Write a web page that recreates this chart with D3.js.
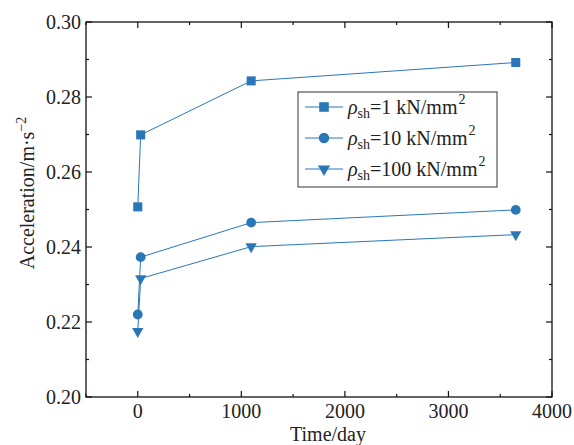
<!DOCTYPE html>
<html>
<head>
<meta charset="utf-8">
<script src="https://cdn.jsdelivr.net/npm/d3@7"></script>
<style>
  body { margin: 0; background: #fff; }
  text { font-family: "Liberation Serif", "Times New Roman", serif; fill: #222; }
</style>
</head>
<body>
<div id="chart"></div>
<script>
// data
var days = [0, 28, 1095, 3650];
var accel1 = [0.2507, 0.2699, 0.2843, 0.2892];
var accel10 = [0.2220, 0.2373, 0.2465, 0.2499];
var accel100 = [0.2175, 0.2316, 0.2401, 0.2433];
var seriesNames = ["1", "10", "100"];
var xTicks = [0, 1000, 2000, 3000, 4000];
var yTicks = [0.20, 0.22, 0.24, 0.26, 0.28, 0.30];

var W = 574, H = 445;
var margin = { top: 22, right: 22, bottom: 48, left: 86 };
var width = W - margin.left - margin.right,
    height = H - margin.top - margin.bottom;
var blue = "#2a77b8";
var fs = "20px", fsSmall = "14px";

var svg = d3.select("#chart").append("svg")
    .attr("width", W)
    .attr("height", H);
var g = svg.append("g")
    .attr("transform", "translate(" + margin.left + "," + margin.top + ")");

var x = d3.scaleLinear().domain([-500, 4000]).range([0, width]);
var y = d3.scaleLinear().domain([0.20, 0.30]).range([height, 0]);

// frame
g.append("rect")
    .attr("width", width).attr("height", height)
    .attr("fill", "none").attr("stroke", "#111").attr("stroke-width", 1.3);

// ticks, all pointing inward
var xMinor = d3.range(-500, 4001, 500).filter(function(d) { return xTicks.indexOf(d) < 0; });
var yMinor = [0.21, 0.23, 0.25, 0.27, 0.29];

function drawXTicks(vals, len) {
    vals.forEach(function(v) {
        g.append("line").attr("x1", x(v)).attr("x2", x(v)).attr("y1", height).attr("y2", height - len)
            .attr("stroke", "#111").attr("stroke-width", 1.2);
        g.append("line").attr("x1", x(v)).attr("x2", x(v)).attr("y1", 0).attr("y2", len)
            .attr("stroke", "#111").attr("stroke-width", 1.2);
    });
}
function drawYTicks(vals, len) {
    vals.forEach(function(v) {
        g.append("line").attr("x1", 0).attr("x2", len).attr("y1", y(v)).attr("y2", y(v))
            .attr("stroke", "#111").attr("stroke-width", 1.2);
        g.append("line").attr("x1", width).attr("x2", width - len).attr("y1", y(v)).attr("y2", y(v))
            .attr("stroke", "#111").attr("stroke-width", 1.2);
    });
}
drawXTicks(xTicks, 6);
drawXTicks(xMinor, 3);
drawYTicks(yTicks, 6);
drawYTicks(yMinor, 3);

// tick labels
g.selectAll(".xl").data(xTicks).enter().append("text")
    .attr("x", function(d) { return x(d); })
    .attr("y", height + 21)
    .attr("text-anchor", "middle")
    .attr("font-size", fs)
    .text(function(d) { return d; });

g.selectAll(".yl").data(yTicks).enter().append("text")
    .attr("x", -5)
    .attr("y", function(d) { return y(d); })
    .attr("dy", "0.35em")
    .attr("text-anchor", "end")
    .attr("font-size", fs)
    .text(function(d) { return d.toFixed(2); });

// axis titles
svg.append("text")
    .attr("x", 328).attr("y", 441)
    .attr("text-anchor", "middle")
    .attr("font-size", fs)
    .text("Time/day");

var yt = svg.append("text")
    .attr("transform", "translate(34,193) rotate(-90)")
    .attr("text-anchor", "middle")
    .attr("font-size", fs);
yt.append("tspan").text("Acceleration/m\u00b7s");
yt.append("tspan").attr("dy", "-0.6em").attr("font-size", fsSmall).text("\u22122");

// series
var symbols = [d3.symbolSquare, d3.symbolCircle, d3.symbolTriangle];
var symSizes = [82, 75, 55];
var rotations = [0, 0, 180];
var allSeries = [accel1, accel10, accel100];

var line = d3.line()
    .x(function(d, i) { return x(days[i]); })
    .y(function(d) { return y(d); });

allSeries.forEach(function(vals, s) {
    g.append("path")
        .attr("d", line(vals))
        .attr("fill", "none")
        .attr("stroke", blue)
        .attr("stroke-width", 1);
    g.selectAll(".m" + s).data(vals).enter().append("path")
        .attr("d", d3.symbol().type(symbols[s]).size(symSizes[s]))
        .attr("transform", function(d, i) {
            return "translate(" + x(days[i]) + "," + y(d) + ") rotate(" + rotations[s] + ")";
        })
        .attr("fill", blue);
});

// legend
var lg = svg.append("g").attr("transform", "translate(298,92)");
lg.append("rect")
    .attr("width", 199).attr("height", 95)
    .attr("fill", "#fff").attr("stroke", "#333").attr("stroke-width", 1);

seriesNames.forEach(function(name, s) {
    var cy = 15 + s * 31;
    lg.append("line")
        .attr("x1", 7).attr("x2", 45).attr("y1", cy).attr("y2", cy)
        .attr("stroke", blue).attr("stroke-width", 1);
    lg.append("path")
        .attr("d", d3.symbol().type(symbols[s]).size(symSizes[s] + 10))
        .attr("transform", "translate(26," + cy + ") rotate(" + rotations[s] + ")")
        .attr("fill", blue);
    var t = lg.append("text")
        .attr("x", 50).attr("y", cy + 7)
        .attr("font-size", fs);
    t.append("tspan").attr("font-style", "italic").text("\u03c1");
    t.append("tspan").attr("font-size", fsSmall).attr("dy", "0.25em").text("sh");
    t.append("tspan").attr("dy", "-0.17em").text("=" + name + " kN/mm");
    t.append("tspan").attr("font-size", fsSmall).attr("dx", 1).attr("dy", "-0.7em").text("2");
});
</script>
</body>
</html>
